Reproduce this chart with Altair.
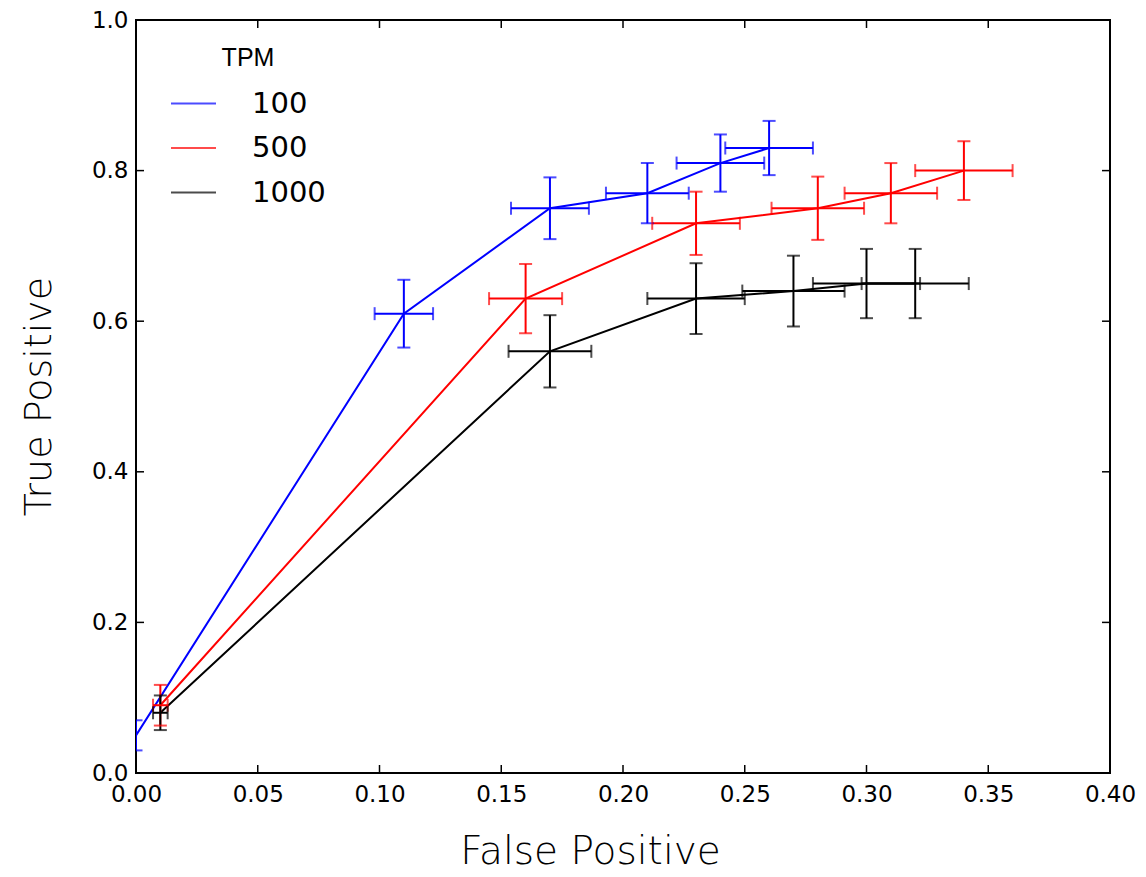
import altair as alt
import pandas as pd

# ---- data ----
tpm_levels = ["100", "500", "1000"]
colors = ["#0000ff", "#ff0000", "#000000"]

fp_100 = [0.00, 0.11, 0.17, 0.21, 0.24, 0.26]
tp_100 = [0.05, 0.61, 0.75, 0.77, 0.81, 0.83]
fpe_100 = [0.000, 0.012, 0.016, 0.017, 0.018, 0.018]
tpe_100 = [0.020, 0.045, 0.041, 0.040, 0.038, 0.036]

fp_500 = [0.01, 0.16, 0.23, 0.28, 0.31, 0.34]
tp_500 = [0.09, 0.63, 0.73, 0.75, 0.77, 0.80]
fpe_500 = [0.003, 0.015, 0.018, 0.019, 0.019, 0.020]
tpe_500 = [0.027, 0.046, 0.042, 0.042, 0.040, 0.039]

fp_1000 = [0.01, 0.17, 0.23, 0.27, 0.30, 0.32]
tp_1000 = [0.08, 0.56, 0.63, 0.64, 0.65, 0.65]
fpe_1000 = [0.003, 0.017, 0.020, 0.021, 0.022, 0.022]
tpe_1000 = [0.023, 0.048, 0.047, 0.047, 0.046, 0.046]

x_ticks = [0.00, 0.05, 0.10, 0.15, 0.20, 0.25, 0.30, 0.35, 0.40]
y_ticks = [0.0, 0.2, 0.4, 0.6, 0.8, 1.0]

series = [
    ("100", colors[0], fp_100, tp_100, fpe_100, tpe_100),
    ("500", colors[1], fp_500, tp_500, fpe_500, tpe_500),
    ("1000", colors[2], fp_1000, tp_1000, fpe_1000, tpe_1000),
]
rows = []
for tpm, col, fp, tp, fpe, tpe in series:
    for i in range(len(fp)):
        rows.append(dict(TPM=tpm, col=col, order=i, fp=fp[i], tp=tp[i],
                         fp_lo=fp[i] - fpe[i], fp_hi=fp[i] + fpe[i],
                         tp_lo=tp[i] - tpe[i], tp_hi=tp[i] + tpe[i],
                         fpe=fpe[i]))
df = pd.DataFrame(rows)
df_x = df[df["fpe"] > 0]

W, H = 974, 753
XT = "False Positive"
YT = "True Positive"
xs = alt.Scale(domain=[0, 0.4], nice=False, zero=False)
ys = alt.Scale(domain=[0, 1], nice=False, zero=False)

x_axis = alt.Axis(values=x_ticks, format=".2f", domain=False, ticks=False, grid=False,
                  labelFont="DejaVu Sans", labelFontSize=23, labelPadding=10,
                  labelColor="black", labelFlush=False, labelOverlap=False,
                  titleFont="DejaVu Sans", titleFontWeight=200, titleFontSize=39,
                  titleColor="black", titleX=454, titleY=90,
                  titleBaseline="alphabetic", titleAlign="center")
y_axis = alt.Axis(values=y_ticks, format=".1f", domain=False, ticks=False, grid=False,
                  labelFont="DejaVu Sans", labelFontSize=23, labelPadding=8,
                  labelColor="black", labelFlush=False, labelOverlap=False,
                  titleFont="DejaVu Sans", titleFontWeight=200, titleFontSize=38,
                  titleColor="black", titleX=-86, titleY=376, titleAngle=270,
                  titleBaseline="alphabetic", titleAlign="center")

colv = alt.Color("col:N", scale=None)
cap = dict(size=13, thickness=2, clip=True)

lines = alt.Chart(df).mark_line(strokeWidth=2, clip=True).encode(
    x=alt.X("fp:Q", scale=xs, axis=x_axis, title=XT),
    y=alt.Y("tp:Q", scale=ys, axis=y_axis, title=YT),
    color=alt.Color("TPM:N", scale=alt.Scale(domain=tpm_levels, range=colors),
                    legend=alt.Legend(title="TPM", orient="none", legendX=34, legendY=26,
                                      symbolType="stroke", symbolSize=2025,
                                      symbolStrokeWidth=2, labelFont="DejaVu Sans",
                                      labelFontSize=29, labelOffset=35, labelColor="black",
                                      titleFont="Liberation Sans", titleFontSize=25,
                                      titleFontWeight="normal", titleColor="black",
                                      titleAnchor="middle", titlePadding=9,
                                      rowPadding=5.5, padding=0)),
    order="order:Q",
)

vbar = alt.Chart(df).mark_rule(strokeWidth=2, clip=True).encode(
    x=alt.X("fp:Q", title=XT), y=alt.Y("tp_lo:Q", title=YT), y2="tp_hi:Q", color=colv)
hbar = alt.Chart(df_x).mark_rule(strokeWidth=2, clip=True).encode(
    x=alt.X("fp_lo:Q", title=XT), x2="fp_hi:Q", y=alt.Y("tp:Q", title=YT), color=colv)
vcap_lo = alt.Chart(df).mark_tick(orient="horizontal", **cap).encode(
    x=alt.X("fp:Q", title=XT), y=alt.Y("tp_lo:Q", title=YT), color=colv)
vcap_hi = alt.Chart(df).mark_tick(orient="horizontal", **cap).encode(
    x=alt.X("fp:Q", title=XT), y=alt.Y("tp_hi:Q", title=YT), color=colv)
hcap_lo = alt.Chart(df_x).mark_tick(orient="vertical", **cap).encode(
    x=alt.X("fp_lo:Q", title=XT), y=alt.Y("tp:Q", title=YT), color=colv)
hcap_hi = alt.Chart(df_x).mark_tick(orient="vertical", **cap).encode(
    x=alt.X("fp_hi:Q", title=XT), y=alt.Y("tp:Q", title=YT), color=colv)

xt = pd.DataFrame({"fp": x_ticks})
yt = pd.DataFrame({"tp": y_ticks})
TL = 8
tick_bottom = alt.Chart(xt).mark_rule(color="black", strokeWidth=1.5).encode(
    x=alt.X("fp:Q", title=XT), y=alt.value(H), y2=alt.value(H - TL))
tick_top = alt.Chart(xt).mark_rule(color="black", strokeWidth=1.5).encode(
    x=alt.X("fp:Q", title=XT), y=alt.value(0), y2=alt.value(TL))
tick_left = alt.Chart(yt).mark_rule(color="black", strokeWidth=1.5).encode(
    y=alt.Y("tp:Q", title=YT), x=alt.value(0), x2=alt.value(TL))
tick_right = alt.Chart(yt).mark_rule(color="black", strokeWidth=1.5).encode(
    y=alt.Y("tp:Q", title=YT), x=alt.value(W), x2=alt.value(W - TL))

chart = alt.layer(
    tick_bottom, tick_top, tick_left, tick_right,
    lines, vbar, hbar, vcap_lo, vcap_hi, hcap_lo, hcap_hi,
).properties(
    width=W, height=H,
    background="white",
    padding={"left": 128, "top": 12, "right": 28, "bottom": 101},
    autosize=alt.AutoSizeParams(type="none"),
).configure_view(stroke="black", strokeWidth=2)

chart.save("out.html", embed_options={"renderer": "svg", "actions": False})
